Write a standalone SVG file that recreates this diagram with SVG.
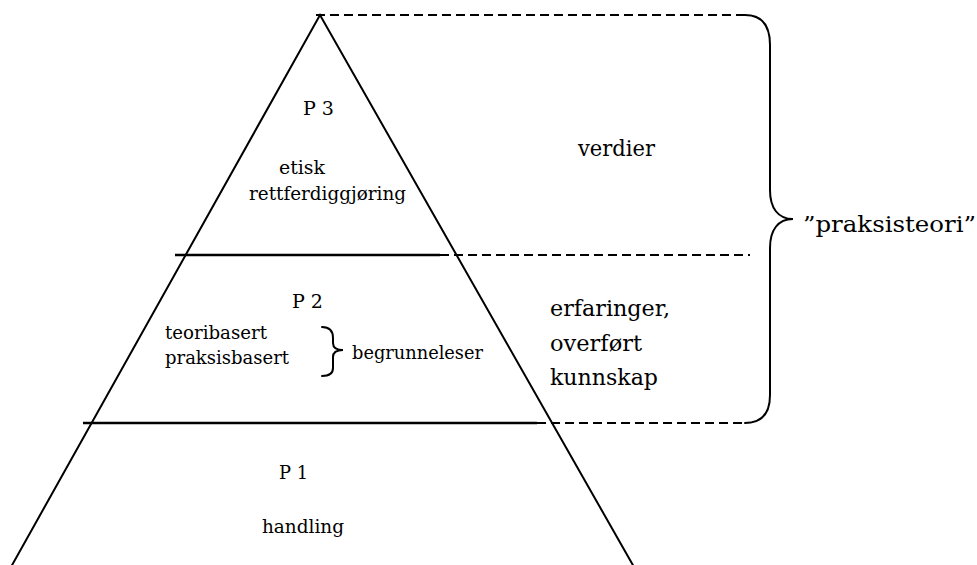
<svg xmlns="http://www.w3.org/2000/svg" width="977" height="565" viewBox="0 0 977 565">
<style>
.ln{stroke:#000;stroke-width:2;fill:none}
.solid{stroke:#000;stroke-width:2.4;fill:none}
.dash{stroke:#000;stroke-width:2;fill:none;stroke-dasharray:9 5}
.br{stroke:#000;stroke-width:2;fill:none;stroke-linecap:round}
.t{font-family:"DejaVu Serif","Liberation Serif",serif;fill:#000}
.s{font-size:18px}
.m{font-size:22px}
</style>
<rect width="977" height="565" fill="#fff"/>
<g id="pyramid">
<polyline class="ln" points="11,567 320,15 634,567"/>
<line class="solid" x1="175" y1="255" x2="440" y2="255"/>
<line class="solid" x1="83" y1="423" x2="537" y2="423"/>
</g>
<g id="connectors">
<line class="dash" x1="316" y1="15" x2="745" y2="15"/>
<line class="dash" x1="440" y1="255" x2="750" y2="255"/>
<line class="dash" x1="537" y1="423" x2="745" y2="423"/>
</g>
<g id="p3" class="t s">
<text x="303" y="115" textLength="31" lengthAdjust="spacingAndGlyphs">P 3</text>
<text x="279" y="174" textLength="46" lengthAdjust="spacingAndGlyphs">etisk</text>
<text x="249" y="200" textLength="157" lengthAdjust="spacingAndGlyphs">rettferdiggjøring</text>
</g>
<g id="p2" class="t s">
<text x="292" y="308" textLength="31" lengthAdjust="spacingAndGlyphs">P 2</text>
<text x="165" y="339" textLength="102" lengthAdjust="spacingAndGlyphs">teoribasert</text>
<text x="165" y="364" textLength="124" lengthAdjust="spacingAndGlyphs">praksisbasert</text>
<path class="br" d="M322,327 C330,327 333,331 333,338 L333,343 C333,348 336,350 343,350 C336,350 333,352 333,357 L333,368 C333,373 330,376 322,376"/>
<text x="352" y="359" textLength="131" lengthAdjust="spacingAndGlyphs">begrunneleser</text>
</g>
<g id="p1" class="t s">
<text x="279" y="479" textLength="29" lengthAdjust="spacingAndGlyphs">P 1</text>
<text x="262" y="533" textLength="82" lengthAdjust="spacingAndGlyphs">handling</text>
</g>
<g id="verdier" class="t m">
<text x="578" y="156" textLength="77" lengthAdjust="spacingAndGlyphs">verdier</text>
</g>
<g id="erfaringer" class="t m">
<text x="550" y="316" textLength="120" lengthAdjust="spacingAndGlyphs">erfaringer,</text>
<text x="550" y="351" textLength="92" lengthAdjust="spacingAndGlyphs">overført</text>
<text x="550" y="385" textLength="108" lengthAdjust="spacingAndGlyphs">kunnskap</text>
</g>
<g id="praksisteori" class="t m">
<path class="br" d="M745,15 C762,15 770,25 770,45 L770,190 C770,208 778,219 793,219 C778,219 770,230 770,248 L770,395 C770,413 762,423 745,423"/>
<text x="803" y="232" textLength="173" lengthAdjust="spacingAndGlyphs">”praksisteori”</text>
</g>
</svg>
